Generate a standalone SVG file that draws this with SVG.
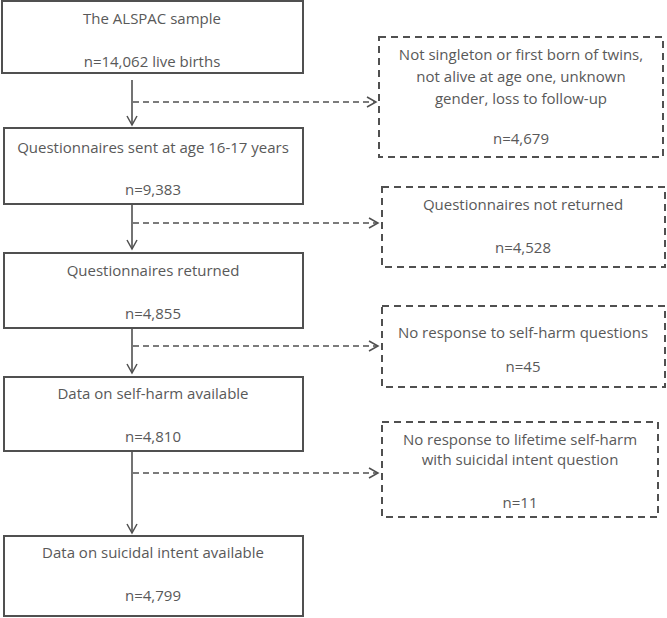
<svg xmlns="http://www.w3.org/2000/svg" width="667" height="618" viewBox="0 0 667 618">
<defs>
<style>
.box{fill:#fff;stroke:#505050;stroke-width:2}
.dbox{fill:#fff;stroke:#505050;stroke-width:2;stroke-dasharray:7,5}
.t{font-family:"Open Sans","Liberation Sans",sans-serif;font-size:15px;fill:#595959;text-anchor:middle}
.main{stroke:#505050;stroke-width:1.6;fill:none}
.dash{stroke:#505050;stroke-width:1.3;fill:none;stroke-dasharray:6,4}
</style>
<marker id="ah" markerWidth="12" markerHeight="12" refX="10" refY="6" orient="auto" markerUnits="userSpaceOnUse">
<polyline points="1,1 10,6 1,11" fill="none" stroke="#505050" stroke-width="1.5"/>
</marker>
</defs>
<rect width="667" height="618" fill="#fff"/>
<g id="n1"><rect class="box" x="2" y="1" width="301" height="72"/>
<text class="t" x="152" y="24">The ALSPAC sample</text>
<text class="t" x="152" y="67">n=14,062 live births</text></g>
<g id="n2"><rect class="box" x="4" y="128" width="299" height="76"/>
<text class="t" x="153" y="153">Questionnaires sent at age 16-17 years</text>
<text class="t" x="153" y="195">n=9,383</text></g>
<g id="n3"><rect class="box" x="4" y="253" width="299" height="75"/>
<text class="t" x="153" y="276">Questionnaires returned</text>
<text class="t" x="153" y="319">n=4,855</text></g>
<g id="n4"><rect class="box" x="4" y="377" width="299" height="74"/>
<text class="t" x="153" y="399">Data on self-harm available</text>
<text class="t" x="153" y="442">n=4,810</text></g>
<g id="n5"><rect class="box" x="4" y="536" width="299" height="80"/>
<text class="t" x="153" y="558">Data on suicidal intent available</text>
<text class="t" x="153" y="601">n=4,799</text></g>
<g id="r1"><rect class="dbox" x="379" y="37" width="284" height="120"/>
<text class="t" x="521" y="60">Not singleton or first born of twins,</text>
<text class="t" x="521" y="82">not alive at age one, unknown</text>
<text class="t" x="521" y="104">gender, loss to follow-up</text>
<text class="t" x="521" y="144">n=4,679</text></g>
<g id="r2"><rect class="dbox" x="382" y="187" width="283" height="80"/>
<text class="t" x="523" y="210">Questionnaires not returned</text>
<text class="t" x="523" y="253">n=4,528</text></g>
<g id="r3"><rect class="dbox" x="382" y="306" width="283" height="81"/>
<text class="t" x="523" y="338">No response to self-harm questions</text>
<text class="t" x="523" y="372">n=45</text></g>
<g id="r4"><rect class="dbox" x="382" y="422" width="276" height="95"/>
<text class="t" x="520" y="445">No response to lifetime self-harm</text>
<text class="t" x="520" y="465">with suicidal intent question</text>
<text class="t" x="520" y="508">n=11</text></g>
<g id="connectors">
<line class="main" x1="132" y1="80" x2="132" y2="125" marker-end="url(#ah)"/>
<line class="main" x1="132" y1="205" x2="132" y2="249" marker-end="url(#ah)"/>
<line class="main" x1="132" y1="329" x2="132" y2="373" marker-end="url(#ah)"/>
<line class="main" x1="132" y1="451" x2="132" y2="533" marker-end="url(#ah)"/>
<line class="dash" x1="133" y1="102" x2="376" y2="102" marker-end="url(#ah)"/>
<line class="dash" x1="133" y1="223" x2="378" y2="223" marker-end="url(#ah)"/>
<line class="dash" x1="133" y1="346" x2="378" y2="346" marker-end="url(#ah)"/>
<line class="dash" x1="133" y1="473" x2="378" y2="473" marker-end="url(#ah)"/>
</g>
</svg>
